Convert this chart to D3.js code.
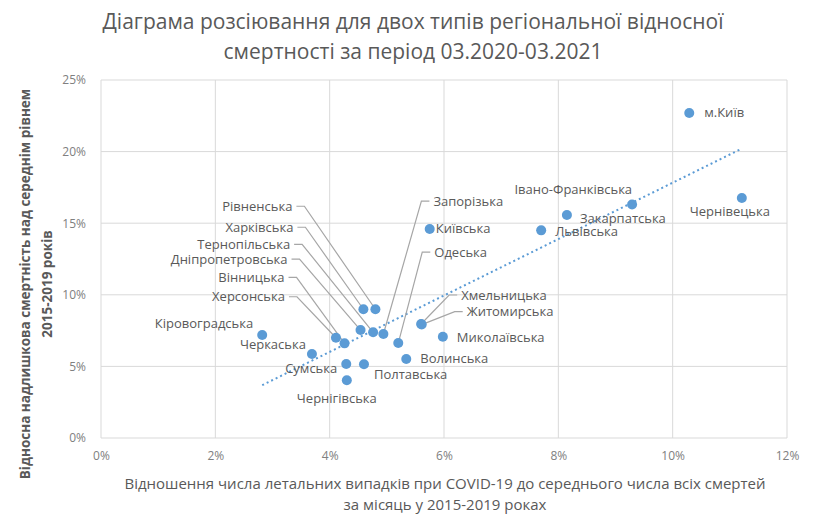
<!doctype html>
<html>
<head>
<meta charset="utf-8">
<script src="https://d3js.org/d3.v7.min.js"></script>
<style>
  body { margin: 0; background: #fff; }
  text { font-family: "Open Sans", sans-serif; }
</style>
</head>
<body>
<svg width="819" height="529"></svg>
<script>
// regions, x = COVID deaths / avg monthly deaths 2015-2019, y = excess mortality
var regions = ["м.Київ", "Чернівецька", "Івано-Франківська", "Закарпатська", "Львівська",
  "Київська", "Запорізька", "Одеська", "Хмельницька", "Житомирська", "Миколаївська",
  "Волинська", "Полтавська", "Чернігівська", "Сумська", "Черкаська", "Кіровоградська",
  "Рівненська", "Харківська", "Тернопільська", "Дніпропетровська", "Вінницька", "Херсонська"];
var xValues = [0.1029, 0.1121, 0.0929, 0.0815, 0.0770,
  0.0575, 0.0494, 0.0520, 0.0560, 0.0561, 0.0598,
  0.0534, 0.0460, 0.0430, 0.0429, 0.0369, 0.0282,
  0.0480, 0.0459, 0.0476, 0.0454, 0.0426, 0.0411];
var yValues = [0.227, 0.1676, 0.1630, 0.1557, 0.1450,
  0.1460, 0.0726, 0.0663, 0.0796, 0.0792, 0.0707,
  0.0552, 0.0515, 0.0403, 0.0517, 0.0587, 0.0719,
  0.0899, 0.0899, 0.0738, 0.0754, 0.0661, 0.0700];
var xTicks = [0, 0.02, 0.04, 0.06, 0.08, 0.10, 0.12];
var yTicks = [0, 0.05, 0.10, 0.15, 0.20, 0.25];

// label placement: [dx, dy, anchor, leader]
var labelPos = {
  "м.Київ": [15, 0, "start", false],
  "Чернівецька": [-12, 13, "middle", false],
  "Івано-Франківська": [0, -15, "end", false],
  "Закарпатська": [13, 3, "start", false],
  "Львівська": [14, 1, "start", false],
  "Київська": [6, 0, "start", false],
  "Запорізька": [50, -133, "start", true],
  "Одеська": [36, -91, "start", true],
  "Хмельницька": [40, -29, "start", true],
  "Житомирська": [45, -13, "start", true],
  "Миколаївська": [14, 1, "start", false],
  "Волинська": [14, -1, "start", false],
  "Полтавська": [10, 10, "start", false],
  "Чернігівська": [-10, 18, "middle", false],
  "Сумська": [-9, 4, "end", false],
  "Черкаська": [-6, -9, "end", false],
  "Кіровоградська": [-9, -12, "end", false],
  "Рівненська": [-83, -103, "end", true],
  "Харківська": [-70, -82, "end", true],
  "Тернопільська": [-83, -88, "end", true],
  "Дніпропетровська": [-73, -71, "end", true],
  "Вінницька": [-60, -66, "end", true],
  "Херсонська": [-51, -41, "end", true]
};

var data = regions.map(function(d, i) { return {name: d, x: xValues[i], y: yValues[i]}; });

var svg = d3.select("svg");
var mLeft = 101, mRight = 787, mTop = 80, mBottom = 438;

var x = d3.scaleLinear().domain([0, 0.12]).range([mLeft, mRight]);
var y = d3.scaleLinear().domain([0, 0.25]).range([mBottom, mTop]);
var pct = d3.format(".0%");

// title
svg.append("text")
   .attr("text-anchor", "middle")
   .attr("font-size", "21px")
   .attr("fill", "#595959")
   .selectAll("tspan")
   .data(["Діаграма розсіювання для двох типів регіональної відносної",
          "смертності за період 03.2020-03.2021"])
   .enter().append("tspan")
   .attr("x", 413)
   .attr("y", function(d, i) { return 29 + i * 30; })
   .text(function(d) { return d; });

// grid
svg.append("g").selectAll("line").data(yTicks).enter().append("line")
   .attr("x1", mLeft).attr("x2", mRight)
   .attr("y1", function(d) { return y(d); }).attr("y2", function(d) { return y(d); })
   .attr("stroke", "#d9d9d9");
svg.append("g").selectAll("line").data(xTicks).enter().append("line")
   .attr("y1", mTop).attr("y2", mBottom)
   .attr("x1", function(d) { return x(d); }).attr("x2", function(d) { return x(d); })
   .attr("stroke", "#d9d9d9");

// axes (labels only)
var xAxis = svg.append("g")
   .attr("transform", "translate(0," + (mBottom + 10) + ")")
   .call(d3.axisBottom(x).tickValues(xTicks).tickFormat(pct).tickSize(0));
var yAxis = svg.append("g")
   .attr("transform", "translate(" + (mLeft - 12) + ",0)")
   .call(d3.axisLeft(y).tickValues(yTicks).tickFormat(pct).tickSize(0));
[xAxis, yAxis].forEach(function(a) {
  a.select(".domain").remove();
  a.selectAll("text")
   .attr("font-family", "Open Sans, sans-serif")
   .attr("font-size", "12px")
   .attr("fill", "#808080");
});

// axis titles
svg.append("text")
   .attr("text-anchor", "middle")
   .attr("font-size", "15px")
   .attr("fill", "#595959")
   .selectAll("tspan")
   .data(["Відношення числа летальних випадків при COVID-19 до середнього числа всіх смертей",
          "за місяць у 2015-2019 роках"])
   .enter().append("tspan")
   .attr("x", 445)
   .attr("y", function(d, i) { return 489 + i * 21; })
   .text(function(d) { return d; });

svg.append("text")
   .attr("transform", "translate(0,284) rotate(-90)")
   .attr("text-anchor", "middle")
   .attr("font-size", "13.5px")
   .attr("font-weight", "bold")
   .attr("fill", "#595959")
   .selectAll("tspan")
   .data(["Відносна надлишкова смертність над середнім рівнем", "2015-2019 років"])
   .enter().append("tspan")
   .attr("x", 0)
   .attr("y", function(d, i) { return 30 + i * 22; })
   .text(function(d) { return d; });

// linear trend line
var mx = d3.mean(data, function(d) { return d.x; });
var my = d3.mean(data, function(d) { return d.y; });
var slope = d3.sum(data, function(d) { return (d.x - mx) * (d.y - my); }) /
            d3.sum(data, function(d) { return (d.x - mx) * (d.x - mx); });
var icpt = my - slope * mx;
var xr = d3.extent(data, function(d) { return d.x; });
svg.append("line")
   .attr("x1", x(xr[0])).attr("y1", y(icpt + slope * xr[0]))
   .attr("x2", x(xr[1])).attr("y2", y(icpt + slope * xr[1]))
   .attr("stroke", "#5b9bd5")
   .attr("stroke-width", 2)
   .attr("stroke-dasharray", "2,3");

// leader lines
svg.append("g").selectAll("path")
   .data(data.filter(function(d) { return labelPos[d.name][3]; }))
   .enter().append("path")
   .attr("fill", "none")
   .attr("stroke", "#a6a6a6")
   .attr("stroke-width", 1.2)
   .attr("d", function(d) {
     var p = labelPos[d.name], px = x(d.x), py = y(d.y);
     var tx = px + p[0], ty = py + p[1];
     var s = p[2] === "end" ? 1 : -1;
     return "M" + (tx + s * 4) + "," + ty + "H" + (tx + s * 12) + "L" + px + "," + py;
   });

// points
svg.append("g").selectAll("circle")
   .data(data).enter().append("circle")
   .attr("cx", function(d) { return x(d.x); })
   .attr("cy", function(d) { return y(d.y); })
   .attr("r", 5)
   .attr("fill", "#5b9bd5");

// data labels
svg.append("g").selectAll("text")
   .data(data).enter().append("text")
   .attr("x", function(d) { return x(d.x) + labelPos[d.name][0]; })
   .attr("y", function(d) { return y(d.y) + labelPos[d.name][1]; })
   .attr("dy", "0.35em")
   .attr("text-anchor", function(d) { return labelPos[d.name][2]; })
   .attr("font-size", "13px")
   .attr("fill", "#595959")
   .text(function(d) { return d.name; });
</script>
</body>
</html>
